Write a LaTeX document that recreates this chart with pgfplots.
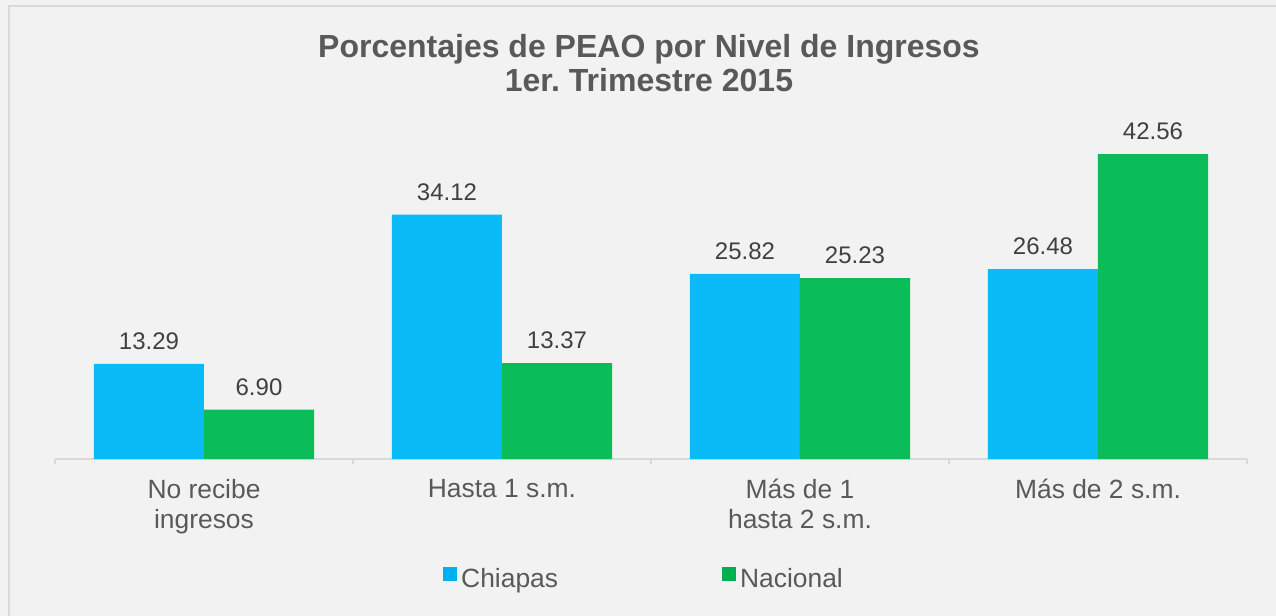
\documentclass[border=0pt]{standalone}
\usepackage{fontspec}
\setmainfont{Liberation Sans}
\usepackage{pgfplots}
\pgfplotsset{compat=1.18}
\definecolor{bg}{HTML}{F2F2F2}
\definecolor{frame}{HTML}{D9D9D9}
\definecolor{cblue}{HTML}{0BBBF8}
\definecolor{cgreen}{HTML}{0ABD58}
\definecolor{lblue}{HTML}{00B0F0}
\definecolor{lgreen}{HTML}{00B050}
\definecolor{txt}{HTML}{595959}
\definecolor{lab}{HTML}{404040}
\frenchspacing
\begin{document}
\begin{tikzpicture}
\path[use as bounding box, fill=bg] (-27.5pt,-78.5pt) rectangle (610.5pt,229.5pt);
\draw[frame, line width=1pt] (-23pt,-95pt) rectangle (625pt,226.5pt);
\begin{axis}[
  at={(0pt,0pt)}, anchor=south west,
  scale only axis, width=596pt, height=179.15pt,
  xmin=-0.5, xmax=3.5, ymin=0, ymax=50,
  axis y line=none, axis x line*=bottom,
  x axis line style={frame, line width=0.75pt},
  xtick={0,1,2,3},
  xticklabels={No recibe\\ingresos, Hasta 1 s.m., Más de 1\\hasta 2 s.m., Más de 2 s.m.},
  major tick length=0pt,
  xticklabel style={align=center, font=\fontsize{13.2}{15}\selectfont, text=txt, yshift=-6.5pt},
  extra x ticks={-0.5,0.5,1.5,2.5,3.5},
  extra x tick labels={},
  extra x tick style={major tick length=2.5pt, tick align=outside, tick style={frame, line width=0.75pt}},
  ybar=0pt, bar width=55pt,
  nodes near coords,
  nodes near coords style={font=\fontsize{12}{14}\selectfont, text=lab, yshift=3.5pt},
  /pgf/number format/fixed, /pgf/number format/fixed zerofill, /pgf/number format/precision=2,
  /pgf/number format/assume math mode=true,
  legend style={draw=none, fill=none, at={(0.495,0)}, anchor=center, yshift=-60pt,
    legend columns=2, font=\fontsize{13.2}{15}\selectfont, text=txt,
    /tikz/every even column/.append style={column sep=80pt}},
  clip=false,
]
\addplot[fill=cblue, draw=none, bar shift=-27.5pt,
  legend image code/.code={\fill[lblue] (-1.5pt,-1pt) rectangle (5.5pt,6pt);}]
  coordinates {(0,13.29) (1,34.12) (2,25.82) (3,26.48)};
\addlegendentry{Chiapas}
\addplot[fill=cgreen, draw=none, bar shift=27.5pt,
  legend image code/.code={\fill[lgreen] (-1.5pt,-1pt) rectangle (5.5pt,6pt);}]
  coordinates {(0,6.90) (1,13.37) (2,25.23) (3,42.56)};
\addlegendentry{Nacional}
\end{axis}
\node[anchor=base, font=\bfseries\fontsize{16}{18}\selectfont, text=txt] at (297pt,200.5pt) {Porcentajes de PEAO por Nivel de Ingresos};
\node[anchor=base, font=\bfseries\fontsize{16}{18}\selectfont, text=txt] at (297pt,183.5pt) {1er. Trimestre 2015};
\end{tikzpicture}
\end{document}
